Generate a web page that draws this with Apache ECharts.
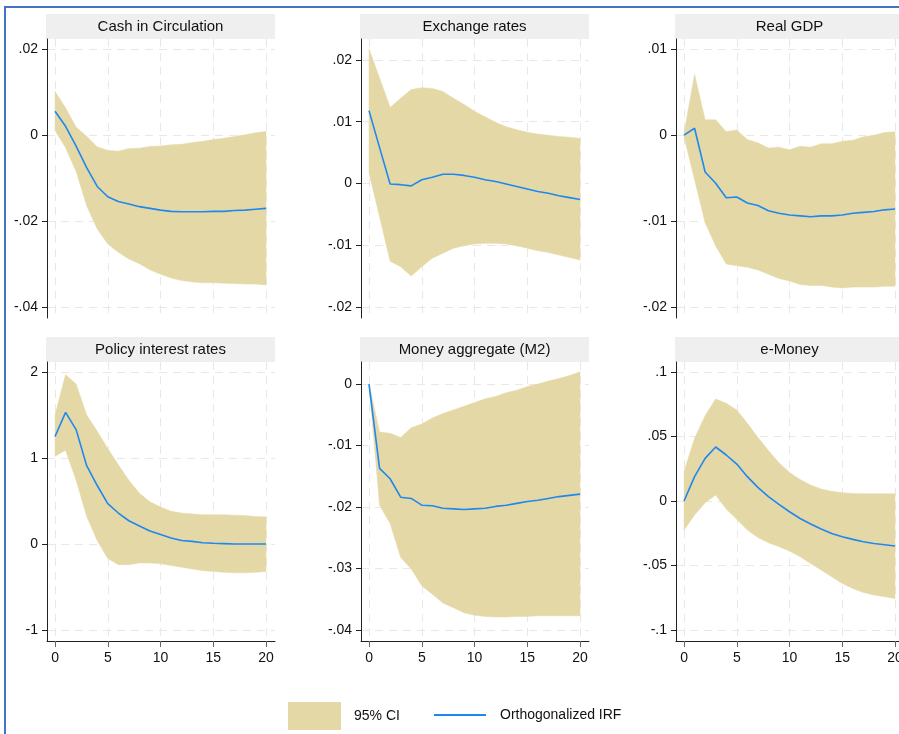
<!DOCTYPE html>
<html>
<head>
<meta charset="utf-8">
<script src="https://cdn.jsdelivr.net/npm/echarts@6/dist/echarts.min.js"></script>
<style>html,body{margin:0;padding:0;background:#fff;}#c{width:899px;height:734px;}</style>
</head>
<body>
<div id="c"></div>
<script>
// ---- data ----
const periods = [0,1,2,3,4,5,6,7,8,9,10,11,12,13,14,15,16,17,18,19,20];
const xTicks = [0,5,10,15,20];

const panelTitles = ['Cash in Circulation','Exchange rates','Real GDP','Policy interest rates','Money aggregate (M2)','e-Money'];

const cashIRF   = [0.0055,0.0020,-0.0026,-0.0076,-0.0120,-0.0144,-0.0155,-0.0161,-0.0167,-0.0171,-0.0175,-0.0178,-0.0179,-0.0179,-0.0179,-0.0178,-0.0178,-0.0176,-0.0175,-0.0173,-0.0171];
const cashUpper = [0.0101,0.0063,0.0018,-0.0003,-0.0028,-0.0036,-0.0038,-0.0032,-0.0031,-0.0027,-0.0026,-0.0023,-0.0022,-0.0018,-0.0015,-0.0011,-0.0008,-0.0004,0.0000,0.0005,0.0008];
const cashLower = [0.0010,-0.0030,-0.0085,-0.0165,-0.0219,-0.0254,-0.0273,-0.0289,-0.0300,-0.0314,-0.0324,-0.0333,-0.0339,-0.0342,-0.0344,-0.0344,-0.0345,-0.0346,-0.0347,-0.0347,-0.0349];
const cashTicks = [-0.04,-0.02,0,0.02];

const fxIRF   = [0.0118,0.0058,-0.0001,-0.0002,-0.0004,0.0006,0.0010,0.0015,0.0015,0.0013,0.0010,0.0006,0.0003,-0.0001,-0.0005,-0.0009,-0.0013,-0.0016,-0.0020,-0.0023,-0.0026];
const fxUpper = [0.0218,0.0171,0.0123,0.0138,0.0152,0.0155,0.0154,0.0149,0.0138,0.0128,0.0117,0.0108,0.0099,0.0092,0.0087,0.0083,0.0080,0.0078,0.0076,0.0075,0.0073];
const fxLower = [0.0017,-0.0054,-0.0126,-0.0135,-0.0150,-0.0135,-0.0121,-0.0113,-0.0105,-0.0101,-0.0098,-0.0097,-0.0097,-0.0098,-0.0101,-0.0105,-0.0109,-0.0112,-0.0116,-0.0120,-0.0124];
const fxTicks = [-0.02,-0.01,0,0.01,0.02];

const gdpIRF   = [0.0000,0.0008,-0.0043,-0.0056,-0.0073,-0.0072,-0.0079,-0.0082,-0.0088,-0.0091,-0.0093,-0.0094,-0.0095,-0.0094,-0.0094,-0.0093,-0.0091,-0.0090,-0.0089,-0.0087,-0.0086];
const gdpUpper = [0.0002,0.0071,0.0018,0.0018,0.0004,0.0006,-0.0005,-0.0009,-0.0015,-0.0014,-0.0017,-0.0013,-0.0014,-0.0010,-0.0010,-0.0007,-0.0006,-0.0002,0.0000,0.0003,0.0004];
const gdpLower = [-0.0002,-0.0052,-0.0102,-0.0129,-0.0150,-0.0152,-0.0154,-0.0157,-0.0162,-0.0167,-0.0170,-0.0174,-0.0175,-0.0175,-0.0177,-0.0178,-0.0177,-0.0177,-0.0177,-0.0176,-0.0176];
const gdpTicks = [-0.02,-0.01,0,0.01];

const rateIRF   = [1.25,1.53,1.33,0.91,0.68,0.47,0.36,0.27,0.21,0.15,0.11,0.07,0.04,0.03,0.015,0.008,0.004,0.0,0.0,0.0,0.0];
const rateUpper = [1.50,1.97,1.86,1.50,1.31,1.11,0.92,0.74,0.59,0.49,0.43,0.38,0.36,0.35,0.34,0.34,0.34,0.335,0.33,0.32,0.315];
const rateLower = [1.02,1.09,0.74,0.32,0.04,-0.17,-0.24,-0.24,-0.22,-0.22,-0.23,-0.25,-0.27,-0.29,-0.31,-0.32,-0.33,-0.335,-0.335,-0.33,-0.32];
const rateTicks = [-1,0,1,2];

const m2IRF   = [0.0000,-0.0137,-0.0154,-0.0184,-0.0186,-0.0197,-0.0198,-0.0202,-0.0203,-0.0204,-0.0203,-0.0202,-0.0199,-0.0197,-0.0194,-0.0191,-0.0189,-0.0186,-0.0183,-0.0181,-0.0179];
const m2Upper = [0.0000,-0.0078,-0.0080,-0.0087,-0.0071,-0.0065,-0.0055,-0.0048,-0.0042,-0.0036,-0.0030,-0.0024,-0.0020,-0.0014,-0.0010,-0.0004,0.0000,0.0005,0.0009,0.0014,0.0020];
const m2Lower = [0.0000,-0.0197,-0.0227,-0.0282,-0.0301,-0.0328,-0.0342,-0.0356,-0.0364,-0.0372,-0.0376,-0.0378,-0.0379,-0.0379,-0.0378,-0.0378,-0.0377,-0.0377,-0.0377,-0.0377,-0.0377];
const m2Ticks = [-0.04,-0.03,-0.02,-0.01,0];

const emIRF   = [0.0000,0.0189,0.0331,0.0419,0.0357,0.0287,0.0189,0.0106,0.0034,-0.0026,-0.0083,-0.0135,-0.0178,-0.0217,-0.0251,-0.0277,-0.0297,-0.0316,-0.0329,-0.0339,-0.0349];
const emUpper = [0.0228,0.0486,0.0662,0.0792,0.0758,0.0706,0.0603,0.0494,0.0391,0.0297,0.0222,0.0168,0.0124,0.0093,0.0075,0.0065,0.0059,0.0057,0.0057,0.0057,0.0057];
const emLower = [-0.0225,-0.0109,-0.0013,0.0047,-0.0062,-0.0142,-0.0225,-0.0282,-0.0323,-0.0354,-0.0388,-0.0432,-0.0484,-0.0535,-0.0587,-0.0639,-0.0678,-0.0709,-0.0729,-0.0742,-0.0755];
const emTicks = [-0.1,-0.05,0,0.05,0.1];

const legendNames = ['95% CI','Orthogonalized IRF'];

// ---- layout / style ----
const FONT = '"Liberation Sans", Arial, sans-serif';
const BAND = '#e4d9a6';
const LINE = '#1f87f0';
const GRIDC = '#e8e8e8';

const panels = [
  {irf: cashIRF, up: cashUpper, lo: cashLower, ticks: cashTicks, min: -0.0426, max: 0.0223},
  {irf: fxIRF, up: fxUpper, lo: fxLower, ticks: fxTicks, min: -0.0218, max: 0.0234},
  {irf: gdpIRF, up: gdpUpper, lo: gdpLower, ticks: gdpTicks, min: -0.0213, max: 0.0112},
  {irf: rateIRF, up: rateUpper, lo: rateLower, ticks: rateTicks, min: -1.128, max: 2.116},
  {irf: m2IRF, up: m2Upper, lo: m2Lower, ticks: m2Ticks, min: -0.0418, max: 0.0036},
  {irf: emIRF, up: emUpper, lo: emLower, ticks: emTicks, min: -0.1085, max: 0.1078}
];
const colX = [47, 361, 676];
const rowY = [39, 362];
const PW = 228, PH = 279;

function fmt(v){
  let s = String(+v.toFixed(6));
  return s.replace(/^(-?)0\./, '$1.');
}

const grids = [], xAxes = [], yAxes = [], series = [], graphics = [];

graphics.push({type:'rect', shape:{x:5, y:7, width:1200, height:1200}, style:{fill:'none', stroke:'#4472c4', lineWidth:2}, silent:true, z:100});

panels.forEach((p, i) => {
  const r = Math.floor(i/3), c = i%3;
  const left = colX[c], top = rowY[r];
  grids.push({left: left, top: top, width: PW, height: PH, outerBoundsMode: 'none', containLabel: false});
  const bottomRow = r === 1;
  xAxes.push({
    type:'value', gridIndex:i, min:-0.76, max:20.85,
    axisLine:{show: bottomRow, onZero:false, lineStyle:{color:'#222', width:1}},
    axisTick:{show: bottomRow, customValues: xTicks, length:6, lineStyle:{color:'#666'}},
    axisLabel:{show: bottomRow, customValues: xTicks, fontSize:14, fontFamily:FONT, color:'#111', margin:10, hideOverlap:false},
    splitLine:{show:true, lineStyle:{color:GRIDC, type:[8,6], width:1}}
  });
  yAxes.push({
    type:'value', gridIndex:i, min:p.min, max:p.max,
    axisLine:{show:true, onZero:false, lineStyle:{color:'#222', width:1}},
    axisTick:{show:true, customValues:p.ticks, length:5, lineStyle:{color:'#222'}},
    axisLabel:{customValues:p.ticks, fontSize:14, fontFamily:FONT, color:'#111', margin:9, formatter: fmt},
    splitLine:{show:true, lineStyle:{color:GRIDC, type:[8,6], width:1}}
  });
  series.push({
    name:legendNames[0], type:'custom', xAxisIndex:i, yAxisIndex:i,
    data: periods.map((x,k)=>[x, p.lo[k], p.up[k]]),
    encode:{x:0, y:[1,2]},
    itemStyle:{color:BAND},
    silent:true,
    renderItem: function(params, api){
      if (params.dataIndex !== 0) return;
      const pts = [];
      for (let k = 0; k < periods.length; k++) pts.push(api.coord([periods[k], p.up[k]]));
      for (let k = periods.length - 1; k >= 0; k--) pts.push(api.coord([periods[k], p.lo[k]]));
      return {type:'polygon', shape:{points:pts}, style:{fill:BAND, stroke:BAND, lineWidth:0.5}};
    }
  });
  series.push({
    name:legendNames[1], type:'line', xAxisIndex:i, yAxisIndex:i,
    data: periods.map((x,k)=>[x, p.irf[k]]), symbol:'none', showSymbol:false,
    itemStyle:{color:LINE}, lineStyle:{color:LINE, width:1.6}, z:5, silent:true
  });
  // title bar
  graphics.push({type:'rect', shape:{x:left-1, y:top-25, width:PW+1, height:25}, style:{fill:'#efefef'}, silent:true});
  graphics.push({type:'text', x:left-1+(PW+1)/2, y:top-12.5, style:{text:panelTitles[i], font:'15px ' + FONT, fill:'#111', align:'center', verticalAlign:'middle'}, silent:true});
});

const chart = echarts.init(document.getElementById('c'), null, {renderer:'canvas'});
chart.setOption({
  animation:false,
  backgroundColor:'#fff',
  grid: grids,
  xAxis: xAxes,
  yAxis: yAxes,
  series: series,
  graphic: graphics,
  legend: [
    {
      left: 288, top: 702, padding:0, itemWidth: 53, itemHeight: 28,
      textStyle:{fontSize:14, fontFamily:FONT, color:'#111', padding:[0,0,0,8]},
      selectedMode:false,
      data:[{name:legendNames[0], icon:'rect', itemStyle:{color:BAND, borderWidth:0}}]
    },
    {
      left: 434, top: 708, padding:0, itemWidth: 52, itemHeight: 2,
      textStyle:{fontSize:14, fontFamily:FONT, color:'#111', padding:[0,0,0,9]},
      selectedMode:false,
      data:[{name:legendNames[1], icon:'rect', itemStyle:{color:LINE, borderWidth:0}}]
    }
  ]
});
</script>
</body>
</html>
